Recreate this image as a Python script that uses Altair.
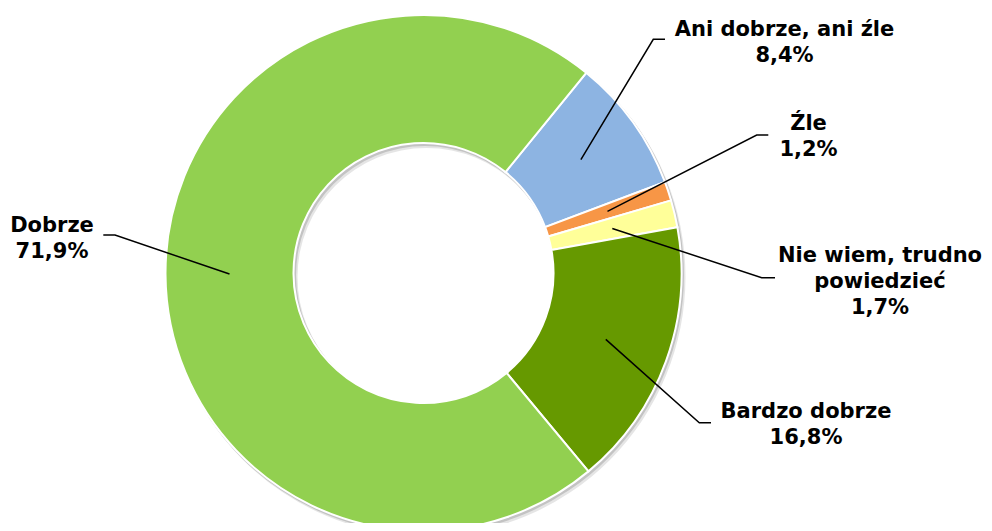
import math
import altair as alt
import pandas as pd

# ---- data ----
categories = ["Ani dobrze, ani źle", "Źle", "Nie wiem, trudno powiedzieć", "Bardzo dobrze", "Dobrze"]
values = [8.4, 1.2, 1.7, 16.8, 71.9]
label_text = [
    "Ani dobrze, ani źle\n8,4%",
    "Źle\n1,2%",
    "Nie wiem, trudno\npowiedzieć\n1,7%",
    "Bardzo dobrze\n16,8%",
    "Dobrze\n71,9%",
]
colors = ["#8DB4E2", "#F79646", "#FFFF99", "#669900", "#92D050"]

# ---- layout (chart coordinates) ----
W, H = 976, 515
CX, CY = 415.5, 265.0
R_OUT, R_IN = 258, 130
R_MID = 194
START = math.radians(39.1)

# label anchor (first-line baseline) and leader elbow/end, chart coords
label_pos = [(776.5, 28), (800.5, 122), (872, 253.7), (798, 410.3), (44, 223.7)]
elbows = [((645.3, 31.3), (657, 31.3)),
          ((748.7, 127), (760.3, 127)),
          ((753.7, 269.7), (767, 269.7)),
          ((691.3, 414.7), (703, 414.7)),
          ((107, 227), (95.3, 227))]

df = pd.DataFrame({"cat": categories, "value": values, "idx": range(len(values))})

# leader lines: start at slice mid-angle, mid-radius
rows = []
cum = 0.0
total = sum(values)
for i, (c, v) in enumerate(zip(categories, values)):
    mid = START + 2 * math.pi * (cum + v / 2) / total
    cum += v
    sx = CX + R_MID * math.sin(mid)
    sy = CY - R_MID * math.cos(mid)
    (ex, ey), (fx, fy) = elbows[i]
    rows += [
        {"cat": c, "p": 0, "x": sx, "y": sy},
        {"cat": c, "p": 1, "x": ex, "y": ey},
        {"cat": c, "p": 2, "x": fx, "y": fy},
    ]
lines_df = pd.DataFrame(rows)
labels_df = pd.DataFrame({
    "cat": categories,
    "text": label_text,
    "x": [p[0] for p in label_pos],
    "y": [p[1] for p in label_pos],
})

xs = alt.Scale(domain=[0, W], range=[0, W])
ys = alt.Scale(domain=[0, H], range=[0, H])

shadow1 = alt.Chart(df.head(1)).mark_arc(
    theta=0, theta2=2 * math.pi, outerRadius=R_OUT + 1, innerRadius=R_IN - 1,
    color="#000000", opacity=0.10
).encode(x=alt.value(CX + 3), y=alt.value(CY + 4))
shadow2 = alt.Chart(df.head(1)).mark_arc(
    theta=0, theta2=2 * math.pi, outerRadius=R_OUT + 1, innerRadius=R_IN - 1,
    color="#000000", opacity=0.15
).encode(x=alt.value(CX + 1.5), y=alt.value(CY + 2))

donut = alt.Chart(df).mark_arc(
    outerRadius=R_OUT, innerRadius=R_IN, stroke="white", strokeWidth=2
).encode(
    theta=alt.Theta("value:Q", stack=True,
                    scale=alt.Scale(domain=[0, 100], range=[START, START + 2 * math.pi])),
    color=alt.Color("cat:N", scale=alt.Scale(domain=categories, range=colors), legend=None),
    order=alt.Order("idx:Q"),
    x=alt.value(CX),
    y=alt.value(CY),
)

leaders = alt.Chart(lines_df).mark_line(color="black", strokeWidth=1.5).encode(
    x=alt.X("x:Q", scale=xs, axis=None),
    y=alt.Y("y:Q", scale=ys, axis=None),
    detail="cat:N",
    order="p:Q",
)

labels = alt.Chart(labels_df).mark_text(
    font="DejaVu Sans", fontWeight="bold", fontSize=21, color="black",
    align="center", baseline="alphabetic", lineBreak="\n", lineHeight=26
).encode(
    x=alt.X("x:Q", scale=xs, axis=None),
    y=alt.Y("y:Q", scale=ys, axis=None),
    text="text:N",
)

chart = alt.layer(shadow1, shadow2, donut, leaders, labels).properties(
    width=W, height=H, padding=0, autosize=alt.AutoSizeParams(type="none"),
    background="white",
).configure_view(stroke=None)

chart.save("out.html", embed_options={"renderer": "svg", "actions": False})
